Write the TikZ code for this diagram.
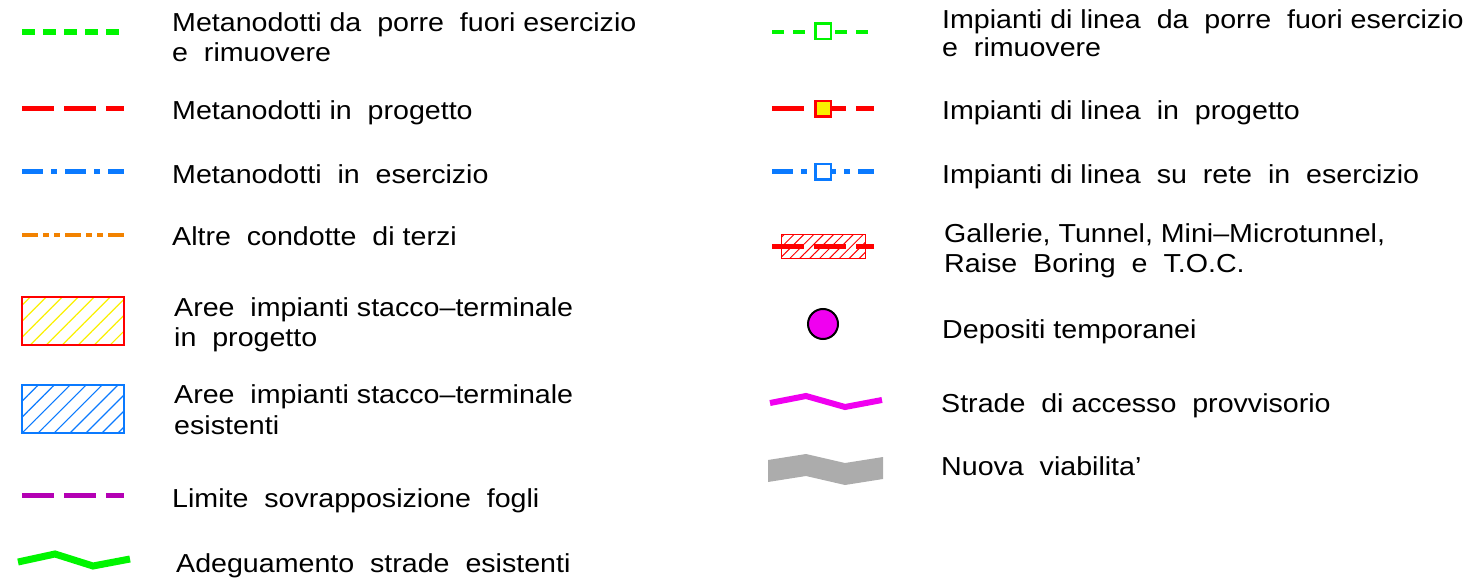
\documentclass[tikz,border=0pt]{standalone}
\usepackage{fontspec}
\setmainfont[FakeStretch=1.1]{Liberation Sans}
\usetikzlibrary{patterns.meta}
\definecolor{cgreen}{RGB}{0,245,0}
\definecolor{cred}{RGB}{255,0,0}
\definecolor{cblue}{RGB}{10,122,255}
\definecolor{corange}{RGB}{242,130,0}
\definecolor{cpurple}{RGB}{180,0,180}
\definecolor{cyellow}{RGB}{250,240,0}
\definecolor{cmagenta}{RGB}{240,0,240}
\definecolor{cgrey}{RGB}{172,172,172}
\tikzset{
  lbl/.style={anchor=base west,inner sep=0pt,font=\fontsize{26}{30}\selectfont},
  greendash/.style={draw=cgreen,line width=6pt,dash pattern=on 13pt off 8pt},
  reddash/.style={draw=cred,line width=5pt,dash pattern=on 32pt off 10pt},
  bluedash/.style={draw=cblue,line width=5pt,dash pattern=on 21pt off 8pt on 6pt off 8pt},
  orangedash/.style={draw=corange,line width=4pt,dash pattern=on 16pt off 5pt on 6pt off 5pt on 6pt off 5pt},
  purpledash/.style={draw=cpurple,line width=5pt,dash pattern=on 32pt off 10pt},
  greensmall/.style={draw=cgreen,line width=4pt,dash pattern=on 12pt off 9pt},
  sqbox/.style={draw,line width=2.5pt,minimum size=15.5pt,inner sep=0pt,fill=white},
  road/.style={line width=7pt,line join=miter},
}
\begin{document}
\begin{tikzpicture}[x=1pt,y=-1pt]
\useasboundingbox (0,0) rectangle (1468,583);
% ---------- left column ----------
% 1
\coordinate (a1) at (22,32); \coordinate (b1) at (120,32);
\draw[greendash] (a1) -- (b1);
\node[lbl] (t1a) at (172,32) {Metanodotti da~ porre~ fuori esercizio};
\node[lbl] (t1b) at (172,62) {e~ rimuovere};
% 2
\coordinate (a2) at (22,109); \coordinate (b2) at (124,109);
\draw[reddash] (a2) -- (b2);
\node[lbl] (t2) at (172,120) {Metanodotti in~ progetto};
% 3
\coordinate (a3) at (22,172); \coordinate (b3) at (124,172);
\draw[bluedash] (a3) -- (b3);
\node[lbl] (t3) at (172,183) {Metanodotti~ in~ esercizio};
% 4
\coordinate (a4) at (22,235); \coordinate (b4) at (124,235);
\draw[orangedash] (a4) -- (b4);
\node[lbl] (t4) at (172,245) {Altre~ condotte~ di terzi};
% 5
\coordinate (r5a) at (22,297); \coordinate (r5b) at (124,345);
\fill[pattern={Lines[angle=45,distance=11.3pt,line width=1.2pt]},pattern color=cyellow] (r5a) rectangle (r5b);
\draw[cred,line width=2.5pt] (r5a) rectangle (r5b);
\node[lbl] (t5a) at (174,316) {Aree~ impianti stacco--terminale};
\node[lbl] (t5b) at (174,346) {in~ progetto};
% 6
\coordinate (r6a) at (22,385); \coordinate (r6b) at (124,433);
\fill[pattern={Lines[angle=45,distance=11.3pt,line width=1.2pt]},pattern color=cblue] (r6a) rectangle (r6b);
\draw[cblue,line width=2.5pt] (r6a) rectangle (r6b);
\node[lbl] (t6a) at (174,403) {Aree~ impianti stacco--terminale};
\node[lbl] (t6b) at (174,434) {esistenti};
% 7
\coordinate (a7) at (22,495); \coordinate (b7) at (124,495);
\draw[purpledash] (a7) -- (b7);
\node[lbl] (t7) at (172,507) {Limite~ sovrapposizione~ fogli};
% 8
\coordinate (g1) at (18,562); \coordinate (g2) at (55,554);
\coordinate (g3) at (93,566); \coordinate (g4) at (130,559);
\draw[road,cgreen] (g1) -- (g2) -- (g3) -- (g4);
\node[lbl] (t8) at (176,572) {Adeguamento~ strade~ esistenti};
% ---------- right column ----------
% 1
\coordinate (c1) at (772,32); \coordinate (d1) at (870,32);
\draw[greensmall] (c1) -- (d1);
\node[sqbox,draw=cgreen] (s1) at (823,31.5) {};
\node[lbl] (u1a) at (942,29) {Impianti di linea~ da~ porre~ fuori esercizio};
\node[lbl] (u1b) at (942,57) {e~ rimuovere};
% 2
\coordinate (c2) at (772,109); \coordinate (d2) at (874,109);
\draw[reddash] (c2) -- (d2);
\node[sqbox,draw=cred,fill=cyellow] (s2) at (823,109) {};
\node[lbl] (u2) at (942,120) {Impianti di linea~ in~ progetto};
% 3
\coordinate (c3) at (772,172); \coordinate (d3) at (874,172);
\draw[bluedash] (c3) -- (d3);
\node[sqbox,draw=cblue] (s3) at (823,172) {};
\node[lbl] (u3) at (942,183) {Impianti di linea~ su~ rete~ in~ esercizio};
% 4
\coordinate (r9a) at (781,234); \coordinate (r9b) at (865,258);
\fill[pattern={Lines[angle=45,distance=7pt,line width=1pt]},pattern color=cred] (r9a) rectangle (r9b);
\draw[cred,line width=1pt] (r9a) rectangle (r9b);
\coordinate (c4) at (772,246); \coordinate (d4) at (874,246);
\draw[reddash] (c4) -- (d4);
\node[lbl] (u4a) at (944,242) {Gallerie, Tunnel, Mini--Microtunnel,};
\node[lbl] (u4b) at (944,272) {Raise~ Boring~ e~ T.O.C.};
% 5
\node[circle,draw=black,line width=2pt,fill=cmagenta,minimum size=30pt,inner sep=0pt] (dep) at (823,324) {};
\node[lbl] (u5) at (942,338) {Depositi temporanei};
% 6
\coordinate (m1) at (770,403); \coordinate (m2) at (806,396);
\coordinate (m3) at (845,407); \coordinate (m4) at (882,400);
\draw[road,cmagenta,line width=6pt] (m1) -- (m2) -- (m3) -- (m4);
\node[lbl] (u6) at (941,412) {Strade~ di accesso~ provvisorio};
% 7
\coordinate (v1) at (768,460); \coordinate (v2) at (806,454);
\coordinate (v3) at (845,463); \coordinate (v4) at (883,457);
\coordinate (v5) at (883,479); \coordinate (v6) at (845,485);
\coordinate (v7) at (806,476); \coordinate (v8) at (768,482);
\fill[cgrey] (v1) -- (v2) -- (v3) -- (v4) -- (v5) -- (v6) -- (v7) -- (v8) -- cycle;
\node[lbl] (u7) at (941,475) {Nuova~ viabilita'};
\end{tikzpicture}
\end{document}
